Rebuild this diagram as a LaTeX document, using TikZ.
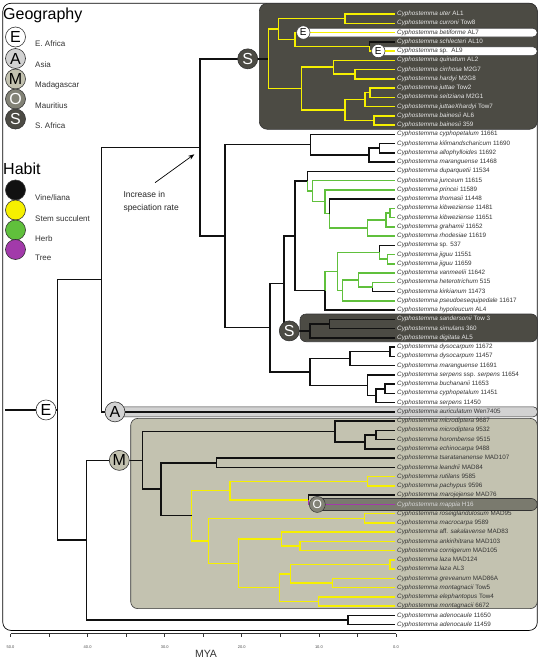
\documentclass[tikz,border=0pt]{standalone}
\usepackage{fontspec}
\setmainfont{Liberation Sans}
\usetikzlibrary{calc,arrows.meta}
\definecolor{ylw}{RGB}{246,240,0}
\definecolor{grn}{RGB}{96,192,60}
\definecolor{prp}{RGB}{162,58,170}
\definecolor{vine}{RGB}{17,17,17}
\definecolor{geoA}{RGB}{210,210,210}
\definecolor{geoM}{RGB}{195,194,176}
\definecolor{geoO}{RGB}{130,130,118}
\definecolor{geoS}{RGB}{76,75,68}
\definecolor{txt}{RGB}{51,51,51}
\definecolor{boxO}{RGB}{122,122,110}
\definecolor{lighttxt}{RGB}{232,232,232}
\newcommand\cyp[2]{\textit{Cyphostemma #1} #2}
\newcommand\nd[4]{\coordinate (tmpmid) at ($(#3)!.5!(#4)$);\coordinate (#1) at (#2,0 |- tmpmid);}
\newcommand\ed[3]{\draw[br,#1] (#2) |- (#3);}
\begin{document}
\begin{tikzpicture}[x=1pt,y=-1pt,
  br/.style={line width=1.5pt},
  tip/.style={anchor=west, inner xsep=2pt, inner ysep=0pt, text height=4.6pt, text depth=1.4pt, font=\fontsize{6.3}{7}\selectfont, text=txt},
  tipL/.style={tip, text=lighttxt},
  gcirc/.style={circle, draw=black!80, line width=0.6pt, minimum size=20pt, inner sep=0pt, font=\fontsize{16}{16}\selectfont},
  hcirc/.style={circle, draw=black!80, line width=0.6pt, minimum size=20pt, inner sep=0pt},
  legtxt/.style={anchor=west, inner sep=0pt, font=\fontsize{8}{9}\selectfont, text=txt},
  boxln/.style={draw=black!80, line width=0.6pt}
]
\useasboundingbox (0,0) rectangle (540,659);
\fill[white] (0,0) rectangle (540,659);
% frame
\draw[line width=0.7pt, rounded corners=8pt] (2.8,3.3) rectangle (537.3,630.4);
% boxes
\draw[boxln, fill=geoS, rounded corners=8pt] (259.3,3.3) rectangle (537.3,129.3);
\draw[boxln, fill=white, rounded corners=4.5pt] (303,28.2) rectangle (537.3,37.0);
\draw[boxln, fill=white, rounded corners=4.5pt] (378,46.7) rectangle (537.3,55.6);
\draw[boxln, fill=geoS, rounded corners=6pt] (300,314) rectangle (537.3,341.7);
\draw[boxln, fill=geoA, rounded corners=4pt] (115,406.8) rectangle (537.3,416.8);
\draw[boxln, fill=geoM, rounded corners=7pt] (130.7,418.4) rectangle (537.3,608.6);
\draw[boxln, fill=boxO, rounded corners=6pt] (311,498.5) rectangle (537.3,510.5);
% tip labels
\node[tipL] (t1) at (395,14.00) {\cyp{uter}{AL1}};
\node[tipL] (t2) at (395,23.25) {\cyp{curroni}{Tow8}};
\node[tip] (t3) at (395,32.51) {\cyp{betiforme}{AL7}};
\node[tipL] (t4) at (395,41.76) {\cyp{schlecteri}{AL10}};
\node[tip] (t5) at (395,51.01) {\textit{Cyphostemma} sp.\ \ AL9};
\node[tipL] (t6) at (395,60.27) {\cyp{quinatum}{AL2}};
\node[tipL] (t7) at (395,69.52) {\cyp{cirrhosa}{M2G7}};
\node[tipL] (t8) at (395,78.77) {\cyp{hardyi}{M2G8}};
\node[tipL] (t9) at (395,88.02) {\cyp{juttae}{Tow2}};
\node[tipL] (t10) at (395,97.28) {\cyp{seitziana}{M2G1}};
\node[tipL] (t11) at (395,106.53) {\cyp{juttaeXhardyi}{Tow7}};
\node[tipL] (t12) at (395,115.78) {\cyp{bainesii}{AL6}};
\node[tipL] (t13) at (395,125.04) {\cyp{bainesii}{359}};
\node[tip] (t14) at (395,134.29) {\cyp{cyphopetalum}{11661}};
\node[tip] (t15) at (395,143.54) {\cyp{kilimandscharicum}{11690}};
\node[tip] (t16) at (395,152.80) {\cyp{allophylloides}{11692}};
\node[tip] (t17) at (395,162.05) {\cyp{maranguense}{11468}};
\node[tip] (t18) at (395,171.30) {\cyp{duparquetii}{11534}};
\node[tip] (t19) at (395,180.55) {\cyp{junceum}{11615}};
\node[tip] (t20) at (395,189.81) {\cyp{princei}{11589}};
\node[tip] (t21) at (395,199.06) {\cyp{thomasii}{11448}};
\node[tip] (t22) at (395,208.31) {\cyp{kibweziense}{11481}};
\node[tip] (t23) at (395,217.57) {\cyp{kibweziense}{11651}};
\node[tip] (t24) at (395,226.82) {\cyp{grahamii}{11652}};
\node[tip] (t25) at (395,236.07) {\cyp{rhodesiae}{11619}};
\node[tip] (t26) at (395,245.33) {\textit{Cyphostemma} sp. 537};
\node[tip] (t27) at (395,254.58) {\cyp{jiguu}{11551}};
\node[tip] (t28) at (395,263.83) {\cyp{jiguu}{11659}};
\node[tip] (t29) at (395,273.08) {\cyp{vanmeelii}{11642}};
\node[tip] (t30) at (395,282.34) {\cyp{heterotrichum}{515}};
\node[tip] (t31) at (395,291.59) {\cyp{kirkianum}{11473}};
\node[tip] (t32) at (395,300.84) {\cyp{pseudoesequipedale}{11617}};
\node[tip] (t33) at (395,310.10) {\cyp{hypoleucum}{AL4}};
\node[tipL] (t34) at (395,319.35) {\cyp{sandersonii}{Tow 3}};
\node[tipL] (t35) at (395,328.60) {\cyp{simulans}{360}};
\node[tipL] (t36) at (395,337.86) {\cyp{digitata}{AL5}};
\node[tip] (t37) at (395,347.11) {\cyp{dysocarpum}{11672}};
\node[tip] (t38) at (395,356.36) {\cyp{dysocarpum}{11457}};
\node[tip] (t39) at (395,365.61) {\cyp{maranguense}{11691}};
\node[tip] (t40) at (395,374.87) {\textit{Cyphostemma serpens} ssp. \textit{serpens} 11654};
\node[tip] (t41) at (395,384.12) {\cyp{buchananii}{11653}};
\node[tip] (t42) at (395,393.37) {\cyp{cyphopetalum}{11451}};
\node[tip] (t43) at (395,402.63) {\cyp{serpens}{11450}};
\node[tip] (t44) at (395,411.88) {\cyp{auriculatum}{Wen7405}};
\node[tip] (t45) at (395,421.13) {\cyp{microdiptera}{9687}};
\node[tip] (t46) at (395,430.39) {\cyp{microdiptera}{9532}};
\node[tip] (t47) at (395,439.64) {\cyp{horombense}{9515}};
\node[tip] (t48) at (395,448.89) {\cyp{echinocarpa}{9488}};
\node[tip] (t49) at (395,458.14) {\cyp{tsaratananense}{MAD107}};
\node[tip] (t50) at (395,467.40) {\cyp{leandrii}{MAD84}};
\node[tip] (t51) at (395,476.65) {\cyp{rutilans}{9585}};
\node[tip] (t52) at (395,485.90) {\cyp{pachypus}{9596}};
\node[tip] (t53) at (395,495.16) {\cyp{marojejense}{MAD76}};
\node[tip, text=black!15] (t54) at (395,504.41) {\cyp{mappia}{H16}};
\node[tip] (t55) at (395,513.66) {\cyp{roseiglandulosum}{MAD95}};
\node[tip] (t56) at (395,522.92) {\cyp{macrocarpa}{9589}};
\node[tip] (t57) at (395,532.17) {\textit{Cyphostemma} aff. \textit{sakalavense} MAD83};
\node[tip] (t58) at (395,541.42) {\cyp{ankirihitrana}{MAD103}};
\node[tip] (t59) at (395,550.67) {\cyp{cornigerum}{MAD105}};
\node[tip] (t60) at (395,559.93) {\cyp{laza}{MAD124}};
\node[tip] (t61) at (395,569.18) {\cyp{laza}{AL3}};
\node[tip] (t62) at (395,578.43) {\cyp{greveanum}{MAD86A}};
\node[tip] (t63) at (395,587.69) {\cyp{montagnacii}{Tow5}};
\node[tip] (t64) at (395,596.94) {\cyp{elephantopus}{Tow4}};
\node[tip] (t65) at (395,606.19) {\cyp{montagnacii}{6672}};
\node[tip] (t66) at (395,615.45) {\cyp{adenocaule}{11650}};
\node[tip] (t67) at (395,624.70) {\cyp{adenocaule}{11459}};
% internal nodes
\nd{n_uc}{345}{t1}{t2}
\nd{n_sa9}{369.3}{t4}{t5}
\nd{n_be}{295}{t3}{n_sa9}
\nd{n_P}{278.3}{n_uc}{n_be}
\nd{n_js}{370}{t9}{t10}
\nd{n_jsh}{365}{n_js}{t11}
\nd{n_bai}{374}{t12}{t13}
\nd{n_S2}{345}{n_jsh}{n_bai}
\nd{n_ch}{355}{t7}{t8}
\nd{n_S1}{333.3}{t6}{n_ch}
\nd{n_R}{301.7}{n_S1}{n_S2}
\nd{n_Q}{268.3}{n_P}{n_R}
\nd{n_ka}{379.3}{t15}{t16}
\nd{n_kam}{369}{n_ka}{t17}
\nd{n_cy}{310.7}{t14}{n_kam}
\nd{n_G}{390}{t22}{t23}
\nd{n_F}{386}{n_G}{t24}
\nd{n_E}{367.3}{n_F}{t25}
\nd{n_D}{329.3}{t21}{n_E}
\nd{n_C}{325}{t20}{n_D}
\nd{n_B}{312.7}{t19}{n_C}
\nd{n_A1}{307.3}{t18}{n_B}
\nd{n_jj}{387.7}{t27}{t28}
\nd{n_J}{379.3}{t26}{n_jj}
\nd{n_M2}{372.7}{t30}{t31}
\nd{n_L}{358.3}{t29}{n_M2}
\nd{n_K}{342.7}{n_L}{t32}
\nd{n_I}{337.3}{n_J}{n_K}
\nd{n_H}{325}{n_I}{t33}
\nd{n_295}{295}{n_A1}{n_H}
\nd{n_ss}{329.3}{t34}{t35}
\nd{n_Sm}{310}{n_ss}{t36}
\nd{n_284}{284}{n_295}{n_Sm}
\nd{n_dy}{390}{t37}{t38}
\nd{n_dym}{350}{n_dy}{t39}
\nd{n_bc}{385}{t41}{t42}
\nd{n_bcs}{376}{n_bc}{t43}
\nd{n_sp}{367.3}{t40}{n_bcs}
\nd{n_ds}{310}{n_dym}{n_sp}
\nd{n_270}{270}{n_284}{n_ds}
\nd{n_225}{225}{n_cy}{n_270}
\nd{n_200}{200}{n_Q}{n_225}
\nd{n_102}{101.7}{n_200}{t44}
\nd{n_mh}{376}{t46}{t47}
\nd{n_mhe}{365}{n_mh}{t48}
\nd{n_mi}{335}{t45}{n_mhe}
\nd{n_tl}{216.7}{t49}{t50}
\nd{n_rp}{367.3}{t51}{t52}
\nd{n_mm}{308.3}{t53}{t54}
\nd{n_230}{230}{n_rp}{n_mm}
\nd{n_rm}{364.3}{t55}{t56}
\nd{n_ac}{300}{t58}{t59}
\nd{n_aac}{281.7}{t57}{n_ac}
\nd{n_lz}{390}{t60}{t61}
\nd{n_gm}{332.7}{t62}{t63}
\nd{n_290}{290.7}{n_lz}{n_gm}
\nd{n_em}{318.3}{t64}{t65}
\nd{n_279}{279.3}{n_290}{n_em}
\nd{n_238}{238.3}{n_aac}{n_279}
\nd{n_208}{208.3}{n_rm}{n_238}
\nd{n_192}{191.7}{n_230}{n_208}
\nd{n_161}{161}{n_tl}{n_192}
\nd{n_142}{142.3}{n_mi}{n_161}
\nd{n_ad}{348}{t66}{t67}
\nd{n_86}{86.5}{n_142}{n_ad}
\nd{n_root}{57.3}{n_102}{n_86}
\coordinate (rootstart) at (5.3,0 |- n_root);
% edges
\ed{ylw}{n_uc}{t1.west} \ed{ylw}{n_uc}{t2.west}
\ed{vine}{n_sa9}{t4.west} \ed{ylw}{n_sa9}{t5.west}
\ed{ylw}{n_be}{t3.west} \ed{ylw}{n_be}{n_sa9}
\ed{ylw}{n_P}{n_uc} \ed{ylw}{n_P}{n_be}
\ed{ylw}{n_js}{t9.west} \ed{ylw}{n_js}{t10.west}
\ed{ylw}{n_jsh}{n_js} \ed{ylw}{n_jsh}{t11.west}
\ed{ylw}{n_bai}{t12.west} \ed{ylw}{n_bai}{t13.west}
\ed{ylw}{n_S2}{n_jsh} \ed{ylw}{n_S2}{n_bai}
\ed{ylw}{n_ch}{t7.west} \ed{ylw}{n_ch}{t8.west}
\ed{ylw}{n_S1}{t6.west} \ed{ylw}{n_S1}{n_ch}
\ed{ylw}{n_R}{n_S1} \ed{ylw}{n_R}{n_S2}
\ed{ylw}{n_Q}{n_P} \ed{ylw}{n_Q}{n_R}
\ed{vine}{n_ka}{t15.west} \ed{vine}{n_ka}{t16.west}
\ed{vine}{n_kam}{n_ka} \ed{vine}{n_kam}{t17.west}
\ed{vine}{n_cy}{t14.west} \ed{vine}{n_cy}{n_kam}
\ed{grn}{n_G}{t22.west} \ed{grn}{n_G}{t23.west}
\ed{grn}{n_F}{n_G} \ed{grn}{n_F}{t24.west}
\ed{grn}{n_E}{n_F} \ed{grn}{n_E}{t25.west}
\ed{vine}{n_D}{t21.west} \ed{grn}{n_D}{n_E}
\ed{grn}{n_C}{t20.west} \ed{grn}{n_C}{n_D}
\ed{grn}{n_B}{t19.west} \ed{grn}{n_B}{n_C}
\ed{vine}{n_A1}{t18.west} \ed{grn}{n_A1}{n_B}
\ed{grn}{n_jj}{t27.west} \ed{grn}{n_jj}{t28.west}
\ed{vine}{n_J}{t26.west} \ed{grn}{n_J}{n_jj}
\ed{grn}{n_M2}{t30.west} \ed{vine}{n_M2}{t31.west}
\ed{grn}{n_L}{t29.west} \ed{grn}{n_L}{n_M2}
\ed{grn}{n_K}{n_L} \ed{grn}{n_K}{t32.west}
\ed{grn}{n_I}{n_J} \ed{grn}{n_I}{n_K}
\ed{grn}{n_H}{n_I} \ed{vine}{n_H}{t33.west}
\ed{vine}{n_295}{n_A1} \ed{vine}{n_295}{n_H}
\ed{vine}{n_ss}{t34.west} \ed{vine}{n_ss}{t35.west}
\ed{vine}{n_Sm}{n_ss} \ed{vine}{n_Sm}{t36.west}
\ed{vine}{n_284}{n_295} \ed{vine}{n_284}{n_Sm}
\ed{vine}{n_dy}{t37.west} \ed{vine}{n_dy}{t38.west}
\ed{vine}{n_dym}{n_dy} \ed{vine}{n_dym}{t39.west}
\ed{vine}{n_bc}{t41.west} \ed{vine}{n_bc}{t42.west}
\ed{vine}{n_bcs}{n_bc} \ed{vine}{n_bcs}{t43.west}
\ed{vine}{n_sp}{t40.west} \ed{vine}{n_sp}{n_bcs}
\ed{vine}{n_ds}{n_dym} \ed{vine}{n_ds}{n_sp}
\ed{vine}{n_270}{n_284} \ed{vine}{n_270}{n_ds}
\ed{vine}{n_225}{n_cy} \ed{vine}{n_225}{n_270}
\ed{vine}{n_200}{n_Q} \ed{vine}{n_200}{n_225}
\ed{vine}{n_102}{n_200} \ed{vine}{n_102}{t44.west}
\ed{vine}{n_mh}{t46.west} \ed{vine}{n_mh}{t47.west}
\ed{vine}{n_mhe}{n_mh} \ed{vine}{n_mhe}{t48.west}
\ed{vine}{n_mi}{t45.west} \ed{vine}{n_mi}{n_mhe}
\ed{vine}{n_tl}{t49.west} \ed{vine}{n_tl}{t50.west}
\ed{ylw}{n_rp}{t51.west} \ed{ylw}{n_rp}{t52.west}
\ed{vine}{n_mm}{t53.west} \ed{prp}{n_mm}{t54.west}
\ed{ylw}{n_230}{n_rp} \ed{ylw}{n_230}{n_mm}
\ed{ylw}{n_rm}{t55.west} \ed{ylw}{n_rm}{t56.west}
\ed{ylw}{n_ac}{t58.west} \ed{ylw}{n_ac}{t59.west}
\ed{ylw}{n_aac}{t57.west} \ed{ylw}{n_aac}{n_ac}
\ed{ylw}{n_lz}{t60.west} \ed{ylw}{n_lz}{t61.west}
\ed{ylw}{n_gm}{t62.west} \ed{ylw}{n_gm}{t63.west}
\ed{ylw}{n_290}{n_lz} \ed{ylw}{n_290}{n_gm}
\ed{ylw}{n_em}{t64.west} \ed{ylw}{n_em}{t65.west}
\ed{ylw}{n_279}{n_290} \ed{ylw}{n_279}{n_em}
\ed{ylw}{n_238}{n_aac} \ed{ylw}{n_238}{n_279}
\ed{ylw}{n_208}{n_rm} \ed{ylw}{n_208}{n_238}
\ed{ylw}{n_192}{n_230} \ed{ylw}{n_192}{n_208}
\ed{vine}{n_161}{n_tl} \ed{vine}{n_161}{n_192}
\ed{vine}{n_142}{n_mi} \ed{vine}{n_142}{n_161}
\ed{vine}{n_ad}{t66.west} \ed{vine}{n_ad}{t67.west}
\ed{vine}{n_86}{n_142} \ed{vine}{n_86}{n_ad}
\ed{vine}{n_root}{n_102} \ed{vine}{n_root}{n_86}
\draw[br,vine] (rootstart) -- (n_root);
% state circles on tree
\node[gcirc, fill=geoS, text=white] (cS1) at (247.7,0 |- n_Q) {S};
\node[gcirc, fill=geoS, text=white] (cS2) at (289.3,0 |- n_Sm) {S};
\node[gcirc, fill=geoA] (cA) at (115,0 |- t44) {A};
\node[gcirc, fill=geoM] (cM) at (119.3,0 |- n_142) {M};
\node[gcirc, fill=white] (cE) at (46,0 |- n_root) {E};
\node[circle, draw=black!80, line width=0.5pt, fill=white, minimum size=13.4pt, inner sep=0pt, font=\fontsize{10}{10}\selectfont] (cE1) at (303.3,0 |- t3) {E};
\node[circle, draw=black!80, line width=0.5pt, fill=white, minimum size=13.4pt, inner sep=0pt, font=\fontsize{10}{10}\selectfont] (cE2) at (378.3,0 |- t5) {E};
\node[circle, draw=black!80, line width=0.5pt, fill=geoO, text=white, minimum size=16pt, inner sep=0pt, font=\fontsize{12}{12}\selectfont] (cO) at (317.3,0 |- t54) {O};
% legend
\node[anchor=west, inner sep=0pt, font=\fontsize{16}{16}\selectfont] (geo) at (3,15.7) {Geography};
\node[gcirc, fill=white] (lgE) at (15.5,37) {E};
\node[gcirc, fill=geoA] (lgA) at (15.5,58.5) {A};
\node[gcirc, fill=geoM] (lgM) at (15.5,79) {M};
\node[gcirc, fill=geoO, text=white] (lgO) at (15.5,99) {O};
\node[gcirc, fill=geoS, text=white] (lgS) at (15.5,119) {S};
\node[legtxt] (lbE) at (35,44) {E. Africa};
\node[legtxt] (lbA) at (35,64.3) {Asia};
\node[legtxt] (lbM) at (35,85) {Madagascar};
\node[legtxt] (lbO) at (35,105.3) {Mauritius};
\node[legtxt] (lbS) at (35,125.7) {S. Africa};
\node[anchor=west, inner sep=0pt, font=\fontsize{16}{16}\selectfont] (hab) at (3,168.3) {Habit};
\node[hcirc, fill=vine] (hV) at (15.5,190) {};
\node[hcirc, fill=ylw] (hY) at (15.5,210) {};
\node[hcirc, fill=grn] (hG) at (15.5,230) {};
\node[hcirc, fill=prp] (hP) at (15.5,249.5) {};
\node[legtxt] (lbV) at (35,197.3) {Vine/liana};
\node[legtxt] (lbY) at (35,218.3) {Stem succulent};
\node[legtxt] (lbG) at (35,238.3) {Herb};
\node[legtxt] (lbP) at (35,257.3) {Tree};
% annotation
\coordinate (arS) at (155,182.7);
\coordinate (arE) at (194.3,154.3);
\draw[line width=0.7pt, -{Stealth[length=6pt,width=4.5pt]}] (arS) -- (arE);
\node[anchor=west, inner sep=0pt, align=left, font=\fontsize{8.5}{13.3}\selectfont, text=black!85] (incr) at (123.3,201.7) {Increase in\\speciation rate};
% axis
\coordinate (axL) at (10.5,633.6);
\coordinate (axR) at (396,633.6);
\draw[line width=0.7pt, black!80] (axL) -- (axR);
\foreach \k in {0,...,10} \draw[line width=0.7pt, black!80] ($(axL)!\k/10!(axR)$) -- ++(0,3);
\foreach \k/\t in {0/50.0,2/40.0,4/30.0,6/20.0,8/10.0,10/0.0}
  \node[inner sep=0pt, font=\fontsize{4}{4}\selectfont, text=black!70] (ax\k) at ($(axL)!\k/10!(axR)+(0,13.1)$) {\t};
\node[inner sep=0pt, font=\fontsize{10.5}{10.5}\selectfont, text=black!80] (mya) at (206,653.6) {MYA};
\end{tikzpicture}
\end{document}
